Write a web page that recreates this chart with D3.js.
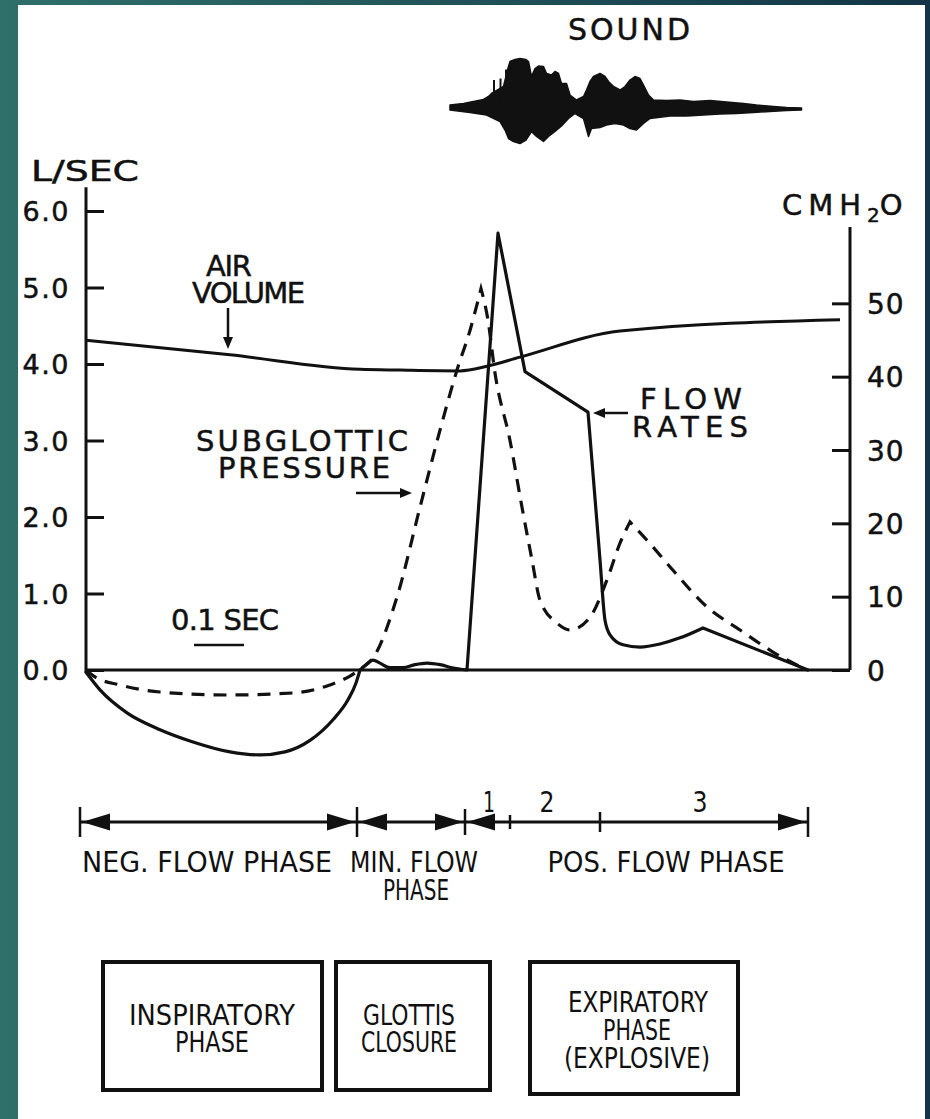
<!DOCTYPE html>
<html><head><meta charset="utf-8">
<script src="https://cdn.jsdelivr.net/npm/d3@7"></script>
<style>
html,body{margin:0;padding:0;width:930px;height:1119px;overflow:hidden;background:#1d4a55;}
svg{display:block;}
</style></head><body>
<svg id="chart" width="930" height="1119"></svg>
<script>
// ---------- DATA ----------
const leftTicks = [0, 1, 2, 3, 4, 5, 6];
const leftTickLabels = ["0.0", "1.0", "2.0", "3.0", "4.0", "5.0", "6.0"];
const rightTicks = [0, 10, 20, 30, 40, 50];
const rightTickLabels = ["0", "10", "20", "30", "40", "50"];

// time in seconds (0.1 s scale bar), values on left axis (L/SEC)
const airVolumeT = [0, 0.288, 0.548, 0.628, 0.748, 0.802, 0.868, 1.068, 1.508];
const airVolumeV = [4.31, 4.12, 3.93, 3.92, 3.91, 3.97, 4.09, 4.43, 4.58];

const flowT = [0, 0.028, 0.082, 0.148, 0.214, 0.288, 0.348, 0.398, 0.448, 0.494, 0.524, 0.540, 0.548,
  0.560, 0.574, 0.588, 0.608, 0.634, 0.658, 0.682, 0.708, 0.732, 0.762,
  0.824, 0.878, 1.004, 1.028, 1.038, 1.048, 1.074, 1.108, 1.148, 1.188, 1.234, 1.444];
const flowV = [-0.03, -0.26, -0.56, -0.78, -0.94, -1.07, -1.11, -1.07, -0.92, -0.65, -0.39, -0.17, 0,
  0.07, 0.13, 0.09, 0.03, 0.03, 0.07, 0.09, 0.07, 0.03, 0,
  5.71, 3.90, 3.37, 1.44, 0.65, 0.46, 0.33, 0.30, 0.34, 0.42, 0.55, 0];

// subglottic pressure, right axis (CMH2O)
const pressureT = [0, 0.018, 0.068, 0.148, 0.282, 0.414, 0.482, 0.528, 0.552, 0.574, 0.622, 0.668, 0.708,
  0.742, 0.768, 0.790, 0.804, 0.818, 0.848, 0.872, 0.892, 0.908, 0.942, 0.968, 1.008, 1.042, 1.068,
  1.088, 1.122, 1.174, 1.242, 1.308, 1.374, 1.442];
const pressureV = [0, -0.95, -2.04, -3.0, -3.41, -3.13, -2.18, -0.82, 0.27, 1.63, 9.95, 22.2, 32.7,
  40.9, 46.3, 52.0, 47.7, 40.5, 31.3, 22.2, 15.0, 9.5, 6.4, 5.45, 7.2, 12.3, 17.3,
  20.2, 17.7, 13.6, 8.6, 5.45, 2.45, 0];

// sound envelope (relative amplitude): upper and lower contours
const soundUpT = [0.728, 0.755, 0.775, 0.795, 0.805, 0.811, 0.835, 0.843, 0.848, 0.858, 0.868, 0.880, 0.885,
  0.891, 0.898, 0.905, 0.915, 0.921, 0.931, 0.938, 0.945, 0.951, 0.961, 0.968, 0.981, 0.995, 1.001,
  1.008, 1.015, 1.028, 1.038, 1.045, 1.055, 1.068, 1.078, 1.088, 1.098, 1.108, 1.115, 1.125, 1.135,
  1.161, 1.188, 1.215, 1.248, 1.281, 1.315, 1.341, 1.375, 1.401, 1.431];
const soundUpA = [0.06, 0.09, 0.13, 0.17, 0.23, 0.29, 0.43, 0.76, 0.93, 0.97, 0.99, 0.97, 0.93,
  0.63, 0.79, 0.84, 0.83, 0.69, 0.66, 0.73, 0.69, 0.49, 0.49, 0.26, 0.16, 0.23, 0.36,
  0.53, 0.63, 0.69, 0.63, 0.53, 0.43, 0.36, 0.43, 0.56, 0.63, 0.59, 0.46, 0.26, 0.16,
  0.15, 0.16, 0.13, 0.15, 0.12, 0.09, 0.06, 0.03, 0.01, 0.0];
const soundLoT = [0.728, 0.768, 0.801, 0.828, 0.838, 0.845, 0.855, 0.868, 0.880, 0.891, 0.901, 0.915, 0.925,
  0.938, 0.951, 0.965, 0.978, 0.995, 1.005, 1.011, 1.028, 1.041, 1.058, 1.075, 1.088, 1.101, 1.115,
  1.128, 1.168, 1.201, 1.235, 1.268, 1.301, 1.335, 1.368, 1.401, 1.431];
const soundLoA = [0.04, 0.09, 0.14, 0.27, 0.44, 0.61, 0.67, 0.71, 0.64, 0.47, 0.57, 0.67, 0.57,
  0.47, 0.36, 0.21, 0.11, 0.21, 0.57, 0.41, 0.39, 0.34, 0.31, 0.34, 0.41, 0.44, 0.31,
  0.21, 0.16, 0.16, 0.14, 0.12, 0.11, 0.09, 0.07, 0.05, 0.04];
// thin spikes above the sound envelope
const spikeT = [0.816, 0.829, 0.840];
const spikeA = [0.56, 0.59, 0.77];

// phase bar boundaries (seconds)
const phaseBounds = [-0.012, 0.542, 0.758, 0.848, 1.028, 1.444];
const phaseNumbers = ["1", "2", "3"];
const phaseNames = ["NEG. FLOW PHASE", "MIN. FLOW", "PHASE", "POS. FLOW PHASE"];
const boxLabels = [["INSPIRATORY", "PHASE"], ["GLOTTIS", "CLOSURE"], ["EXPIRATORY", "PHASE", "(EXPLOSIVE)"]];

// ---------- DRAW ----------
const svg = d3.select("#chart");
const defs = svg.append("defs");
const grad = defs.append("linearGradient").attr("id", "bg").attr("x1", 0).attr("x2", 1).attr("y1", 0).attr("y2", 0);
grad.append("stop").attr("offset", "0%").attr("stop-color", "#2f706b");
grad.append("stop").attr("offset", "100%").attr("stop-color", "#123446");
svg.append("rect").attr("width", 930).attr("height", 1119).attr("fill", "url(#bg)");
svg.append("rect").attr("x", 18).attr("y", 5).attr("width", 907).attr("height", 1114).attr("fill", "#ffffff");

const ink = "#111";
const x = d3.scaleLinear().domain([0, 1.528]).range([86, 850]);
const yL = d3.scaleLinear().domain([0, 6]).range([670, 211]);
const yR = d3.scaleLinear().domain([0, 60]).range([670, 230]);
const yS = d3.scaleLinear().domain([-1, 1]).range([158, 58]);

const FONT = "'DejaVu Sans', Verdana, sans-serif";
const NARROW = "'Liberation Sans Narrow', 'DejaVu Sans Condensed', 'Roboto Condensed', 'Liberation Sans', sans-serif";

// left axis
const gL = svg.append("g").attr("transform", `translate(${x(0)},0)`)
  .call(d3.axisLeft(yL).tickValues(leftTicks).tickSizeInner(-18).tickSizeOuter(0).tickPadding(16)
    .tickFormat((d, i) => leftTickLabels[i]));
gL.select(".domain").remove();
gL.selectAll(".tick line").attr("stroke", ink).attr("stroke-width", 3);
gL.selectAll(".tick text").attr("font-family", FONT).attr("font-size", 27).attr("fill", ink)
  .attr("letter-spacing", 1.5).attr("stroke", ink).attr("stroke-width", 0.5).attr("dy", "0.36em");
svg.append("line").attr("x1", x(0)).attr("x2", x(0)).attr("y1", yL(6.31)).attr("y2", yL(-0.03))
  .attr("stroke", ink).attr("stroke-width", 3);

// right axis
const gR = svg.append("g").attr("transform", `translate(${x(1.528)},0)`)
  .call(d3.axisRight(yR).tickValues(rightTicks).tickSizeInner(-18).tickSizeOuter(0).tickPadding(17)
    .tickFormat((d, i) => rightTickLabels[i]));
gR.select(".domain").remove();
gR.selectAll(".tick line").attr("stroke", ink).attr("stroke-width", 3);
gR.selectAll(".tick text").attr("font-family", FONT).attr("font-size", 28).attr("fill", ink)
  .attr("letter-spacing", 1).attr("stroke", ink).attr("stroke-width", 0.5).attr("dy", "0.36em");
svg.append("line").attr("x1", x(1.528)).attr("x2", x(1.528)).attr("y1", yR(60.4)).attr("y2", yR(0))
  .attr("stroke", ink).attr("stroke-width", 3);

// baseline
svg.append("line").attr("x1", x(0)).attr("x2", x(1.528)).attr("y1", yL(0)).attr("y2", yL(0))
  .attr("stroke", ink).attr("stroke-width", 3);

// axis titles
svg.append("text").attr("x", 31).attr("y", 181).attr("font-family", FONT).attr("font-size", 28)
  .attr("textLength", 108).attr("lengthAdjust", "spacingAndGlyphs").attr("fill", ink)
  .attr("stroke", ink).attr("stroke-width", 0.5).text("L/SEC");
const cm = svg.append("text").attr("x", 782).attr("y", 215).attr("font-family", FONT).attr("font-size", 29)
  .attr("fill", ink).attr("stroke", ink).attr("stroke-width", 0.5);
cm.append("tspan").text("CMH").attr("letter-spacing", 6);
cm.append("tspan").text("2").attr("font-size", 20).attr("dy", 7);
cm.append("tspan").text("O").attr("dy", -7);

// lines (segments: sharp corners kept linear, smooth parts monotone)
function seg(T, V, ys, from, to, curve) {
  const idx = d3.range(from, to + 1);
  return d3.line().curve(curve).x(i => x(T[i])).y(i => ys(V[i]))(idx);
}
const M = d3.curveMonotoneX, LIN = d3.curveLinear;
svg.append("path").attr("d", seg(airVolumeT, airVolumeV, yL, 0, airVolumeT.length - 1, M))
  .attr("fill", "none").attr("stroke", ink).attr("stroke-width", 3);
const fd = [[0, 12, M], [12, 22, M], [22, 25, LIN], [25, 33, M], [33, 34, LIN]]
  .map(s => seg(flowT, flowV, yL, s[0], s[1], s[2])).map((d, i) => i === 0 ? d : "L" + d.slice(1)).join("");
svg.append("path").attr("d", fd).attr("fill", "none")
  .attr("stroke", ink).attr("stroke-width", 3.2).attr("stroke-linejoin", "round").attr("stroke-linecap", "round");
const pd = [[0, 15, M], [15, 27, M], [27, 33, M]].map(s => seg(pressureT, pressureV, yR, s[0], s[1], s[2]))
  .map((d, i) => i === 0 ? d : "L" + d.slice(1)).join("");
svg.append("path").attr("d", pd).attr("fill", "none").attr("stroke", ink).attr("stroke-width", 3.2)
  .attr("stroke-dasharray", "13,9");

// sound
const upPts = soundUpT.map((t, i) => [x(t), yS(soundUpA[i])]);
const loPts = soundLoT.map((t, i) => [x(t), yS(-soundLoA[i])]).reverse();
svg.append("path").attr("d", d3.line()(upPts.concat(loPts)) + "Z").attr("fill", ink).attr("stroke", ink)
  .attr("stroke-width", 1.5).attr("stroke-linejoin", "round");
spikeT.forEach((t, i) => svg.append("line").attr("x1", x(t)).attr("x2", x(t)).attr("y1", yS(spikeA[i])).attr("y2", yS(0))
  .attr("stroke", ink).attr("stroke-width", 2));
svg.append("text").attr("x", 568).attr("y", 40).attr("font-family", FONT).attr("font-size", 30)
  .attr("textLength", 122).attr("lengthAdjust", "spacing").attr("fill", ink)
  .attr("stroke", ink).attr("stroke-width", 0.5).text("SOUND");

// multi-line labels: one text element, one tspan per line
function block(lines, cxs, bases, widths, opts) {
  const t = svg.append("text").attr("font-family", opts.family).attr("font-size", opts.size)
    .attr("text-anchor", "middle").attr("fill", ink);
  if (opts.bold) t.attr("stroke", ink).attr("stroke-width", 0.5);
  lines.forEach((s, i) => t.append("tspan").attr("x", cxs[i]).attr("y", bases[i])
    .attr("textLength", widths[i]).attr("lengthAdjust", opts.adjust).text(s));
}
const UP = { family: FONT, size: 29, adjust: "spacing", bold: true };
block(["AIR", "VOLUME"], [229, 248.5], [276, 303], [46, 113], UP);
block(["SUBGLOTTIC", "PRESSURE"], [302, 304], [451, 478], [212, 172], UP);
block(["FLOW", "RATES"], [691, 690], [409, 437], [102, 116], UP);
block(["0.1 SEC"], [225], [630], [108], UP);

function arrow(x1, y1, x2, y2) {
  const a = Math.atan2(y2 - y1, x2 - x1), L = 12, W = 5;
  svg.append("line").attr("x1", x1).attr("y1", y1).attr("x2", x2 - Math.cos(a) * 8).attr("y2", y2 - Math.sin(a) * 8)
    .attr("stroke", ink).attr("stroke-width", 2.5);
  const p = [[x2, y2], [x2 - L * Math.cos(a) + W * Math.sin(a), y2 - L * Math.sin(a) - W * Math.cos(a)],
    [x2 - L * Math.cos(a) - W * Math.sin(a), y2 - L * Math.sin(a) + W * Math.cos(a)]];
  svg.append("path").attr("d", "M" + p.map(q => q.join(",")).join("L") + "Z").attr("fill", ink);
}
arrow(228, 308, 228, 349);
arrow(356, 493, 412, 493);
arrow(628, 413, 593, 413);
// 0.1 sec scale bar
svg.append("line").attr("x1", x(0.216)).attr("x2", x(0.316)).attr("y1", 645).attr("y2", 645).attr("stroke", ink).attr("stroke-width", 2.5);

// phase bar
const PY = 822;
svg.append("line").attr("x1", x(phaseBounds[0])).attr("x2", x(phaseBounds[5])).attr("y1", PY).attr("y2", PY)
  .attr("stroke", ink).attr("stroke-width", 3);
const tickH = [15, 15, 13, 7, 10, 15];
phaseBounds.forEach((b, i) => {
  svg.append("line").attr("x1", x(b)).attr("x2", x(b)).attr("y1", PY - tickH[i]).attr("y2", PY + tickH[i])
    .attr("stroke", ink).attr("stroke-width", 2.5);
});
function head(px, dir) {
  const L = 28 * -dir;
  svg.append("path").attr("d", `M${px},${PY}L${px + L},${PY - 8.5}L${px + L},${PY + 8.5}Z`).attr("fill", ink);
}
head(x(phaseBounds[0]) + 2, -1);
head(x(phaseBounds[1]) - 2, 1);
head(x(phaseBounds[1]) + 2, -1);
head(x(phaseBounds[2]) - 2, 1);
head(x(phaseBounds[2]) + 2, -1);
head(x(phaseBounds[5]) - 2, 1);

const LOW = { family: NARROW, size: 29, adjust: "spacingAndGlyphs", bold: false };
block([phaseNumbers[0]], [489], [812], [12], LOW);
block([phaseNumbers[1]], [547], [812], [15], LOW);
block([phaseNumbers[2]], [700], [812], [15], LOW);
block([phaseNames[0]], [207], [872], [250], LOW);
block([phaseNames[1], phaseNames[2]], [414, 416], [872, 900], [128, 66], LOW);
block([phaseNames[3]], [666], [872], [237], LOW);

// boxes
const boxes = [[103, 962, 219, 128], [336, 962, 154, 128], [530, 962, 208, 132]];
boxes.forEach(b => svg.append("rect").attr("x", b[0]).attr("y", b[1]).attr("width", b[2]).attr("height", b[3])
  .attr("fill", "none").attr("stroke", ink).attr("stroke-width", 4));
block(boxLabels[0], [212, 212], [1025, 1052], [166, 74], LOW);
block(boxLabels[1], [409, 409], [1025, 1052], [92, 96], LOW);
block(boxLabels[2], [638, 637, 637], [1012, 1040, 1068], [140, 68, 146], LOW);
</script>
</body></html>
